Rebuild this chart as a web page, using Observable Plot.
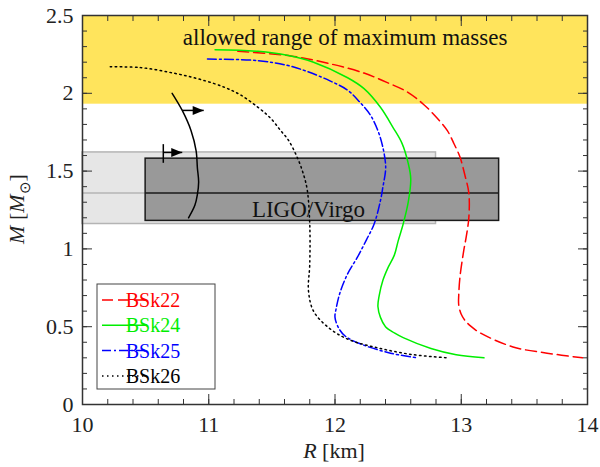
<!DOCTYPE html>
<html><head><meta charset="utf-8">
<script src="https://cdn.jsdelivr.net/npm/d3@7"></script>
<script src="https://cdn.jsdelivr.net/npm/@observablehq/plot@0.6"></script>
<style>body{margin:0;background:#fff}</style>
</head><body><div id="chart"></div>
<script>
// ---- data ----
const seriesNames = ["BSk22", "BSk24", "BSk25", "BSk26"];
const seriesColors = ["#ff0000", "#00ee00", "#0000ff", "#000000"];
const seriesDash = ["11,5", null, "9,3,2,3", "1.5,3.5"];

const bsk22R = [11.23,11.65,11.96,12.23,12.41,12.57,12.70,12.81,12.89,12.94,12.99,13.03,13.06,13.06,13.04,13.02,12.99,12.98,12.98,13.00,13.03,13.08,13.15,13.41,13.68,13.96];
const bsk22M = [2.27,2.24,2.19,2.13,2.07,2.01,1.93,1.84,1.76,1.68,1.59,1.47,1.36,1.20,1.08,0.99,0.82,0.70,0.64,0.58,0.54,0.50,0.46,0.37,0.33,0.30];
const bsk24R = [11.05,11.39,11.62,11.83,12.10,12.23,12.36,12.46,12.53,12.58,12.60,12.58,12.54,12.50,12.47,12.42,12.38,12.35,12.34,12.36,12.40,12.47,12.54,12.76,12.96,13.18];
const bsk24M = [2.28,2.27,2.245,2.20,2.10,2.03,1.91,1.78,1.68,1.55,1.45,1.30,1.16,1.05,0.96,0.88,0.80,0.70,0.63,0.56,0.50,0.46,0.43,0.36,0.32,0.30];
const bsk25R = [10.99,11.39,11.62,11.78,11.96,12.10,12.20,12.28,12.34,12.38,12.40,12.40,12.38,12.36,12.31,12.25,12.18,12.10,12.04,12.01,12.00,12.03,12.08,12.20,12.44,12.65];
const bsk25M = [2.22,2.21,2.18,2.14,2.08,2.02,1.94,1.86,1.76,1.65,1.55,1.50,1.40,1.31,1.16,1.06,0.95,0.84,0.72,0.62,0.56,0.49,0.44,0.39,0.33,0.30];
const bsk26R = [10.22,10.46,10.72,10.93,11.12,11.25,11.39,11.49,11.57,11.63,11.70,11.75,11.78,11.80,11.80,11.79,11.83,11.94,12.10,12.36,12.62,12.89];
const bsk26M = [2.17,2.165,2.13,2.09,2.04,1.99,1.91,1.84,1.76,1.70,1.59,1.48,1.38,1.16,0.90,0.73,0.60,0.50,0.42,0.36,0.32,0.30];
const seriesR = [bsk22R, bsk24R, bsk25R, bsk26R];
const seriesM = [bsk22M, bsk24M, bsk25M, bsk26M];

// shaded bands: [R1, R2, M1, M2]
const allowedBand = [10, 14, 1.93, 2.5];
const ligoWide = [10, 12.8, 1.16, 1.62];
const ligoBox = [10.5, 13.3, 1.18, 1.58];
const ligoMid = 1.36;

// arc + arrows
const arcR = [10.71,10.79,10.86,10.90,10.91,10.92,10.91,10.89,10.84];
const arcM = [2.00,1.89,1.76,1.63,1.52,1.43,1.35,1.28,1.20];
const arrowFrom = [10.79, 10.64];
const arrowTo = [10.96, 10.79];
const arrowM = [1.89, 1.62];
const barM = [1.55, 1.67];

// texts
const annotText = ["allowed range of maximum masses", "LIGO/Virgo"];
const annotR = [12.08, 11.79];
const annotM = [2.355, 1.25];

// ticks
const xMajor = [10, 11, 12, 13, 14];
const xMinor = d3.range(10, 14.001, 0.2);
const yMajor = [0, 0.5, 1, 1.5, 2, 2.5];
const yMinor = d3.range(0, 2.5001, 0.1);

// ---- build ----
const curves = seriesNames.flatMap((name, i) =>
  seriesR[i].map((r, j) => ({name, R: r, M: seriesM[i][j]})));
const arc = arcR.map((r, j) => ({R: r, M: arcM[j]}));
const arrows = arrowFrom.map((r, j) => ({x1: r, x2: arrowTo[j], y: arrowM[j]}));
const annots = annotText.map((t, j) => ({t, R: annotR[j], M: annotM[j]}));
const rectOf = b => [{x1: b[0], x2: b[1], y1: b[2], y2: b[3]}];

const arrowHead = {draw(ctx) { ctx.moveTo(0, 0); ctx.lineTo(-11, -4.5); ctx.lineTo(-11, 4.5); ctx.closePath(); }};
const serif = "'Liberation Serif', 'Times New Roman', serif";
const tickColor = "#333";

const marks = [
  Plot.rect(rectOf(allowedBand), {x1: "x1", x2: "x2", y1: "y1", y2: "y2", fill: "#ffe45c"}),
  Plot.rect(rectOf(ligoWide), {x1: "x1", x2: "x2", y1: "y1", y2: "y2", fill: "#e6e6e6", stroke: "#b4b4b4", strokeWidth: 1.5}),
  Plot.ruleY([ligoMid], {x1: ligoWide[0], x2: ligoWide[1], stroke: "#b4b4b4", strokeWidth: 1.5}),
  Plot.rect(rectOf(ligoBox), {x1: "x1", x2: "x2", y1: "y1", y2: "y2", fill: "#999999", stroke: "#1a1a1a", strokeWidth: 1.5}),
  Plot.ruleY([ligoMid], {x1: ligoBox[0], x2: ligoBox[1], stroke: "#1a1a1a", strokeWidth: 1.5}),
  Plot.text(annots, {x: "R", y: "M", text: "t", fontSize: 23, fontFamily: serif, fill: "#111"}),
];
seriesNames.forEach((name, i) => {
  marks.push(Plot.line(curves.filter(d => d.name === name), {
    x: "R", y: "M", stroke: seriesColors[i], strokeWidth: 1.5,
    strokeDasharray: seriesDash[i] || undefined, curve: "catmull-rom"
  }));
});
marks.push(
  Plot.line(arc, {x: "R", y: "M", stroke: "black", strokeWidth: 1.5, curve: "catmull-rom"}),
  Plot.link(arrows, {x1: "x1", x2: "x2", y1: "y", y2: "y", stroke: "black", strokeWidth: 1.5}),
  Plot.dot(arrows, {x: "x2", y: "y", symbol: arrowHead, fill: "black", stroke: null}),
  Plot.ruleX([arrowFrom[1]], {y1: barM[0], y2: barM[1], stroke: "black", strokeWidth: 1.5}),
  // axes: labels
  Plot.axisX(xMajor, {anchor: "bottom", tickSize: 0, tickPadding: 12, fontSize: 22, fontFamily: serif, fill: "#222", label: null, tickFormat: d => String(d)}),
  Plot.axisY(yMajor, {anchor: "left", tickSize: 0, tickPadding: 9, fontSize: 22, fontFamily: serif, fill: "#222", label: null, tickFormat: d => String(d)}),
  // ticks inward on all sides
  Plot.axisX(xMajor, {anchor: "bottom", tickSize: -10, text: null, stroke: tickColor, label: null}),
  Plot.axisX(xMinor, {anchor: "bottom", tickSize: -5, text: null, stroke: tickColor, label: null}),
  Plot.axisX(xMajor, {anchor: "top", tickSize: -10, text: null, stroke: tickColor, label: null}),
  Plot.axisX(xMinor, {anchor: "top", tickSize: -5, text: null, stroke: tickColor, label: null}),
  Plot.axisY(yMajor, {anchor: "left", tickSize: -10, text: null, stroke: tickColor, label: null}),
  Plot.axisY(yMinor, {anchor: "left", tickSize: -5, text: null, stroke: tickColor, label: null}),
  Plot.axisY(yMajor, {anchor: "right", tickSize: -10, text: null, stroke: tickColor, label: null}),
  Plot.axisY(yMinor, {anchor: "right", tickSize: -5, text: null, stroke: tickColor, label: null}),
  Plot.frame({stroke: "#333", strokeWidth: 1.5})
);

const chart = Plot.plot({
  width: 600, height: 467,
  marginLeft: 82, marginRight: 13, marginTop: 15, marginBottom: 63,
  style: {fontFamily: serif, background: "white", overflow: "visible"},
  x: {domain: [10, 14]},
  y: {domain: [0, 2.5]},
  marks
});

const svg = d3.select(chart);
// axis titles
const xt = svg.append("text").attr("x", 334).attr("y", 458).attr("text-anchor", "middle")
  .style("font-family", serif).attr("font-size", 22).attr("fill", "#222");
xt.append("tspan").attr("font-style", "italic").text("R");
xt.append("tspan").text(" [km]");
const yt = svg.append("text").attr("transform", "translate(24,209) rotate(-90)").attr("text-anchor", "middle")
  .style("font-family", serif).attr("font-size", 22).attr("fill", "#222");
yt.append("tspan").attr("font-style", "italic").text("M");
yt.append("tspan").text(" [");
yt.append("tspan").attr("font-style", "italic").text("M");
yt.append("tspan").attr("font-size", 15).attr("dy", 6).text("⊙");
yt.append("tspan").attr("dy", -6).text("]");

// legend
const lg = svg.append("g");
lg.append("rect").attr("x", 97).attr("y", 284).attr("width", 118).attr("height", 105)
  .attr("fill", "white").attr("stroke", "#444").attr("stroke-width", 1);
seriesNames.forEach((name, i) => {
  const y = 300 + i * 25.3;
  lg.append("line").attr("x1", 102).attr("x2", 147).attr("y1", y).attr("y2", y)
    .attr("stroke", seriesColors[i]).attr("stroke-width", 1.5)
    .attr("stroke-dasharray", seriesDash[i] || null);
  lg.append("text").attr("x", 153).attr("y", y + 7).style("font-family", serif).attr("font-size", 20)
    .attr("fill", seriesColors[i]).text(name);
});

document.getElementById("chart").appendChild(chart);
</script>
</body></html>
